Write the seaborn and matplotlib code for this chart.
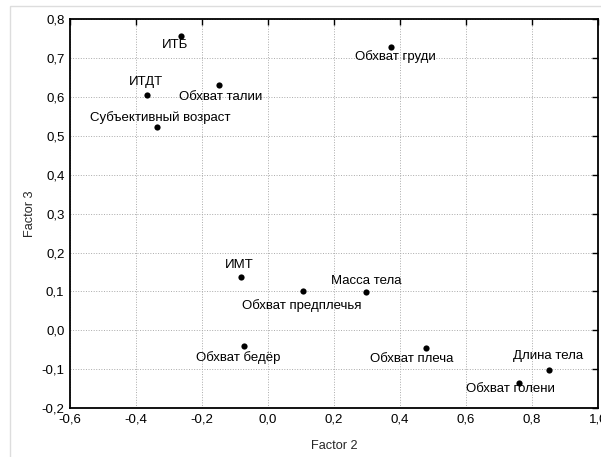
import numpy as np
import pandas as pd
import matplotlib
matplotlib.use("Agg")
import matplotlib.pyplot as plt
import seaborn as sns
from matplotlib.ticker import FuncFormatter, MultipleLocator

# factor loadings
names = ["ИТБ", "Обхват груди", "ИТДТ", "Обхват талии", "Субъективный возраст",
         "ИМТ", "Обхват предплечья", "Масса тела", "Обхват бедёр",
         "Обхват плеча", "Длина тела", "Обхват голени"]
factor2 = [-0.264, 0.373, -0.367, -0.148, -0.336, -0.082, 0.106, 0.297, -0.073, 0.479, 0.852, 0.761]
factor3 = [0.758, 0.728, 0.604, 0.632, 0.522, 0.136, 0.100, 0.098, -0.041, -0.046, -0.103, -0.136]

# label offsets from the point (points)
label_dx = [-4, 3, -1, 1, 2, -1, -1, 0, -4, -10, -1, -6]
label_dy = [-7, -7, 10, -9, 7, 9, -10, 8, -8, -8, 10, -4]

df = pd.DataFrame({"f2": factor2, "f3": factor3, "name": names})

sns.set_style("white")
plt.rcParams["font.family"] = ["Liberation Sans", "DejaVu Sans"]

fig = plt.figure(figsize=(6.01, 4.57), dpi=100)
ax = fig.add_axes([0.1165, 0.107, 0.8785, 0.851])

sns.scatterplot(data=df, x="f2", y="f3", color="black", s=20, edgecolor="black",
                linewidth=0, ax=ax, zorder=3)

for i in range(len(names)):
    ax.annotate(names[i], (factor2[i], factor3[i]),
                xytext=(label_dx[i], label_dy[i]), textcoords="offset points",
                ha="center", va="center", fontsize=9.5, color="black")

ax.set_xlim(-0.6, 1.0)
ax.set_ylim(-0.2, 0.8)
ax.xaxis.set_major_locator(MultipleLocator(0.2))
ax.yaxis.set_major_locator(MultipleLocator(0.1))
fmt = FuncFormatter(lambda v, p: f"{v:.1f}".replace(".", ",").replace("-0,0", "0,0"))
ax.xaxis.set_major_formatter(fmt)
ax.yaxis.set_major_formatter(fmt)
ax.grid(True, linestyle=":", color="#aaaaaa", linewidth=0.7)
ax.tick_params(direction="in", top=True, right=True, length=4, width=1,
               labelsize=9.5, colors="black", pad=4)
for s in ax.spines.values():
    s.set_color("black")
    s.set_linewidth(1.3)

ax.set_xlabel("Factor 2", fontsize=9.2, labelpad=10)
ax.set_ylabel("Factor 3", fontsize=9.2, labelpad=4)

# thin frame around the picture
fig.patches.append(plt.Rectangle((0.016, -0.01), 1.1, 0.996, transform=fig.transFigure,
                                 fill=False, edgecolor="#dddddd", linewidth=1))

fig.savefig("out.png", dpi=100)
